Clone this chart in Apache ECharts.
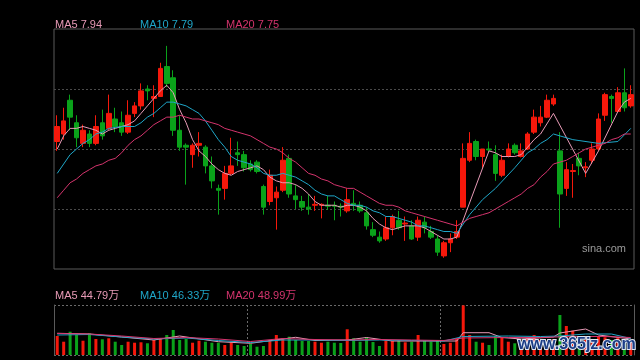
<!DOCTYPE html>
<html><head><meta charset="utf-8">
<script src="https://cdn.jsdelivr.net/npm/echarts@6/dist/echarts.min.js"></script>
<style>html,body{margin:0;padding:0;background:#000}#c{width:640px;height:360px}</style>
</head><body><div id="c"></div><script>
// ---- data ----
const opens = [7.72,7.76,7.94,7.82,7.71,7.76,7.71,7.82,7.79,7.84,
7.82,7.77,7.87,7.91,8.00,7.95,7.96,8.12,8.06,7.78,
7.70,7.65,7.70,7.69,7.59,7.47,7.47,7.55,7.66,7.65,
7.60,7.61,7.48,7.40,7.42,7.46,7.63,7.43,7.40,7.37,
7.38,7.38,7.38,7.38,7.375,7.35,7.39,7.38,7.34,7.25,
7.21,7.20,7.26,7.30,7.28,7.27,7.21,7.29,7.24,7.20,
7.11,7.18,7.21,7.37,7.62,7.72,7.64,7.68,7.65,7.54,
7.64,7.70,7.64,7.68,7.77,7.82,7.85,7.92,7.67,7.47,
7.56,7.63,7.58,7.62,7.68,7.86,7.96,7.88,7.98,7.91];
const closes = [7.80,7.83,7.85,7.74,7.78,7.71,7.80,7.75,7.87,7.80,
7.77,7.86,7.91,7.99,7.99,7.96,8.11,8.03,7.78,7.69,
7.69,7.70,7.71,7.59,7.51,7.46,7.55,7.59,7.65,7.58,
7.57,7.56,7.37,7.54,7.45,7.62,7.44,7.41,7.37,7.36,
7.385,7.385,7.375,7.375,7.37,7.41,7.38,7.35,7.27,7.22,
7.19,7.26,7.32,7.26,7.285,7.20,7.30,7.26,7.21,7.13,
7.18,7.20,7.24,7.63,7.71,7.64,7.68,7.675,7.55,7.62,
7.68,7.66,7.67,7.76,7.85,7.85,7.94,7.95,7.44,7.57,
7.565,7.59,7.585,7.68,7.84,7.97,7.95,7.98,7.90,7.97];
const highs = [7.86,7.90,7.97,7.86,7.81,7.78,7.86,7.89,7.97,7.90,
7.88,7.94,7.93,8.03,8.02,8.02,8.14,8.23,8.10,7.86,
7.71,7.71,7.77,7.70,7.64,7.49,7.59,7.74,7.72,7.67,
7.62,7.62,7.49,7.57,7.48,7.69,7.65,7.49,7.43,7.44,
7.43,7.39,7.43,7.40,7.39,7.47,7.46,7.40,7.37,7.29,
7.24,7.32,7.33,7.35,7.32,7.30,7.32,7.32,7.27,7.22,
7.19,7.23,7.30,7.71,7.77,7.73,7.68,7.72,7.70,7.65,
7.71,7.71,7.71,7.77,7.89,7.91,7.97,7.97,7.77,7.61,
7.60,7.66,7.61,7.71,7.87,7.98,7.97,8.01,8.11,8.02];
const lows = [7.67,7.73,7.78,7.69,7.69,7.69,7.70,7.73,7.78,7.77,
7.75,7.76,7.85,7.89,7.94,7.85,7.96,8.01,7.75,7.67,
7.49,7.58,7.64,7.55,7.47,7.33,7.41,7.54,7.59,7.56,
7.56,7.55,7.33,7.38,7.25,7.45,7.42,7.36,7.35,7.33,
7.35,7.31,7.355,7.30,7.32,7.34,7.35,7.34,7.25,7.21,
7.18,7.19,7.22,7.25,7.19,7.195,7.19,7.23,7.20,7.11,
7.10,7.13,7.20,7.37,7.61,7.62,7.58,7.665,7.51,7.53,
7.635,7.65,7.635,7.675,7.76,7.80,7.845,7.91,7.26,7.43,
7.42,7.54,7.53,7.60,7.67,7.83,7.82,7.875,7.88,7.90];
const ma5 = [7.68,7.75,7.79,7.79,7.80,7.79,7.78,7.76,7.78,7.79,
7.80,7.81,7.83,7.87,7.91,7.95,7.99,8.02,7.98,7.89,
7.82,7.73,7.67,7.64,7.60,7.57,7.55,7.54,7.56,7.57,
7.58,7.59,7.57,7.53,7.51,7.50,7.50,7.49,7.47,7.44,
7.40,7.38,7.38,7.38,7.37,7.38,7.38,7.37,7.35,7.31,
7.28,7.26,7.25,7.26,7.27,7.27,7.27,7.26,7.24,7.22,
7.20,7.20,7.21,null,null,null,null,7.67,7.66,7.64,
7.64,7.64,7.65,7.69,7.73,7.76,null,7.87,null,null,
null,null,7.55,null,7.67,null,null,7.88,7.93,7.95];
const ma10 = [7.55,7.60,7.65,7.68,7.71,7.73,7.76,7.77,7.79,7.795,
7.80,7.80,7.80,7.82,7.85,7.87,7.90,7.93,7.93,7.92,
7.91,7.89,7.87,7.83,7.78,7.73,7.69,7.64,7.62,7.61,
7.60,7.58,7.55,7.54,7.54,7.55,7.54,7.53,7.51,7.49,
7.46,7.44,7.43,7.43,7.41,7.39,7.38,7.38,7.37,7.35,
7.34,7.32,7.32,7.31,7.30,7.29,7.27,7.27,7.26,7.25,
7.24,7.24,7.23,null,7.33,null,7.41,null,7.47,null,
null,7.58,null,7.66,7.68,7.71,7.73,7.76,null,null,
7.73,null,null,null,7.71,null,null,7.72,null,7.79];
const ma20 = [7.42,7.46,7.50,7.52,7.55,7.57,7.59,7.60,7.62,7.63,
7.66,7.70,7.73,7.75,7.78,7.81,7.83,7.85,7.85,7.86,
7.85,7.84,7.84,7.83,7.82,7.81,7.79,7.78,7.77,7.76,
7.75,7.73,7.71,7.69,7.68,7.66,7.63,7.61,7.58,7.55,
7.54,7.52,7.51,7.49,7.48,7.47,7.47,7.45,7.43,7.41,
7.39,7.38,7.38,7.37,7.35,7.34,7.33,7.32,7.31,7.30,
7.29,7.28,7.27,7.29,7.31,7.32,7.33,7.34,7.36,7.38,
7.40,7.42,7.44,7.47,7.49,7.53,7.56,7.60,7.61,7.62,
7.64,7.66,7.68,7.69,7.70,7.71,7.73,7.74,7.76,7.76];
// volume in 万 (10k)
const volumes = [53.2,37.2,65.2,56,40,60.8,44.8,44,46.8,37.2,
28,37.2,34.4,35.6,32.8,42,46.8,56,70,42,
44.8,34.4,40,37.2,34.4,34.4,28,34.4,28,25.2,
30.8,23.2,25.2,42,56,46.8,51.2,42,39.2,39.2,
37.2,34.4,37.2,34.4,33.6,72,46.8,37.2,49.6,36.4,
25.2,40,39.2,42,35.6,37.2,56,39.2,37.2,40,
30.8,34.4,46.8,139,56,37.2,34.4,28,53.2,49.6,
37.2,32.8,32.8,49.6,56,42,37.2,44,112,81.2,
68,46.8,42,44,51.2,49.6,42,49.6,42,42];
const volMa5 = [[0,60.8],[5,58.8],[10,50.4],[15,42],[19,53.2],[25,37.2],[30,32.8],[37,49.6],[40,40.6],[45,42],[48,49],[52,39.2],[57,39.2],[62,39.2],[63,62.4],[67,62.4],[69,49],[72,44.8],[77,50.4],[78,61.6],[82,72.8],[84,56],[89,45]];
const volMa10 = [[0,56],[5,57.4],[10,50.4],[15,44.8],[20,47.6],[25,40.6],[30,35],[35,42],[40,42],[45,40.6],[50,42],[55,40.6],[60,39.2],[63,51.8],[70,53.2],[75,51.8],[78,53.2],[82,58.8],[86,58.8],[89,46.3]];
const volMa20 = [[0,60.2],[5,58.8],[10,53.2],[15,46.2],[20,49],[25,44.8],[30,37.8],[35,46.2],[40,43.4],[45,42],[50,43.4],[55,42],[60,40.6],[63,47.6],[70,49],[75,49],[80,51.8],[85,51.8],[89,49]];
const maNames = ['MA5','MA10','MA20'];
const maLast = ['7.94','7.79','7.75'];
const volMaLast = ['44.79万','46.33万','48.99万'];
const categories = closes.map((_, i) => String(i + 1));

// ---- chart ----
const RED = '#f5180b', GREEN = '#0aa21a';
const MA_COLORS = ['#e79ab6', '#1fa6c8', '#d4346d'];
const FONT = '11px "Liberation Sans","Noto Sans CJK SC",Arial,sans-serif';
const candles = opens.map((o, i) => [o, closes[i], lows[i], highs[i]]);
const volData = volumes.map((v, i) => ({value: v, itemStyle: {color: closes[i] > opens[i] ? RED : GREEN}}));

const hidden = {axisLine:{show:false}, axisTick:{show:false}, axisLabel:{show:false}};
const lineS = (data, c, xi, yi) => ({type:'line', data, xAxisIndex:xi, yAxisIndex:yi, symbol:'none', connectNulls:true, silent:true,
  lineStyle:{width:1, color:c}, itemStyle:{color:c}, z:3});

const texts = [];
const xs = [55, 140, 226];
maNames.forEach((n, k) => {
  texts.push({type:'text', left:xs[k], top:19, style:{text:n + ' ' + maLast[k], fill:MA_COLORS[k], font:FONT}});
  texts.push({type:'text', left:xs[k], top:290, style:{text:n + ' ' + volMaLast[k], fill:MA_COLORS[k], font:FONT}});
});
texts.push({type:'text', left:582, top:243, style:{text:'sina.com', fill:'#9a9a9a', font:'11px "Liberation Sans",Arial,sans-serif'}});
texts.push({type:'text', left:517, top:336, z:100, style:{text:'www.365jz.com', fill:'#1c3d86', stroke:'#dfe8f5', lineWidth:2,
  font:'bold 16px "Liberation Sans",Arial,sans-serif'}});

const chart = echarts.init(document.getElementById('c'));
chart.setOption({
  backgroundColor:'#000',
  animation:false,
  grid:[
    {left:54, right:6, top:29, height:240, show:true, borderColor:'#5a5a5a', borderWidth:1, backgroundColor:'transparent'},
    {left:54, right:6, top:305, height:50}
  ],
  xAxis:[
    Object.assign({type:'category', gridIndex:0, data:categories, boundaryGap:true, splitLine:{show:false}}, hidden),
    Object.assign({type:'category', gridIndex:1, data:categories, boundaryGap:true,
      splitLine:{show:true, interval:29, lineStyle:{color:'#6a6a6a', type:[2,2]}}}, hidden)
  ],
  yAxis:[
    Object.assign({type:'value', gridIndex:0, min:7.04, max:8.32, interval:0.32,
      splitLine:{show:true, showMinLine:false, showMaxLine:false, lineStyle:{color:'#4a4a4a', type:[2,2]}}}, hidden),
    {type:'value', gridIndex:1, min:0, max:140, interval:140, position:'left',
      axisLine:{show:true, lineStyle:{color:'#5a5a5a'}}, axisTick:{show:false}, axisLabel:{show:false},
      splitLine:{show:true, lineStyle:{color:'#6a6a6a', type:[2,2]}}},
    {type:'value', gridIndex:1, min:0, max:140, interval:140, position:'right',
      axisLine:{show:true, lineStyle:{color:'#5a5a5a'}}, axisTick:{show:false}, axisLabel:{show:false}, splitLine:{show:false}}
  ],
  series:[
    {type:'candlestick', xAxisIndex:0, yAxisIndex:0, data:candles, barWidth:5, silent:true,
      itemStyle:{color:RED, color0:GREEN, borderColor:RED, borderColor0:GREEN, borderWidth:1}},
    lineS(ma5, MA_COLORS[0], 0, 0),
    lineS(ma10, MA_COLORS[1], 0, 0),
    lineS(ma20, MA_COLORS[2], 0, 0),
    {type:'bar', xAxisIndex:1, yAxisIndex:1, data:volData, barWidth:3, silent:true},
    lineS(volMa5, MA_COLORS[0], 1, 1),
    lineS(volMa10, MA_COLORS[1], 1, 1),
    lineS(volMa20, MA_COLORS[2], 1, 1)
  ],
  graphic: texts
});
</script></body></html>
